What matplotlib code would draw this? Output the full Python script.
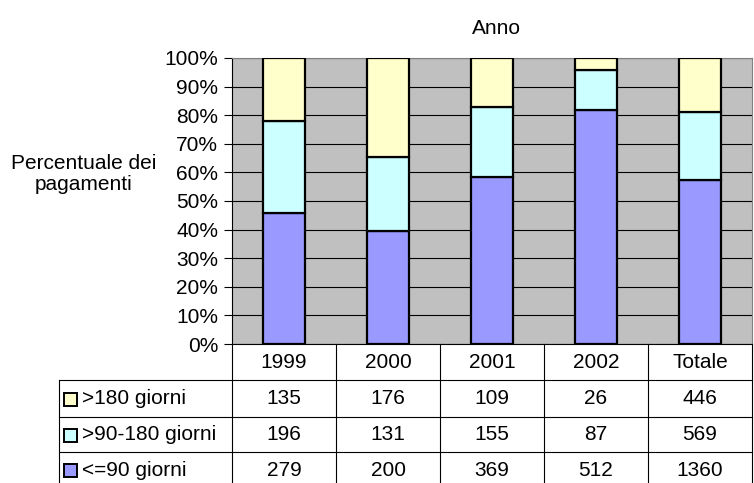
import matplotlib.pyplot as plt
import numpy as np

# pagamenti per anno e fascia di ritardo
anni = ["1999", "2000", "2001", "2002", "Totale"]
serie = [">180 giorni", ">90-180 giorni", "<=90 giorni"]
oltre_180 = [135, 176, 109, 26, 446]
da_90_a_180 = [196, 131, 155, 87, 569]
fino_90 = [279, 200, 369, 512, 1360]
colori = ["#FFFFCC", "#CCFFFF", "#9999FF"]

plt.rcParams['font.family'] = ['Liberation Sans', 'DejaVu Sans']
fs = 15

W, H = 754, 483
fig = plt.figure(figsize=(W / 100, H / 100), dpi=100)

# area del grafico in pixel
left, right, top, bottom = 232, 752, 58, 344
ax = fig.add_axes([left / W, 1 - bottom / H, (right - left) / W, (bottom - top) / H])
ax.set_facecolor("#C0C0C0")

valori = np.array([oltre_180, da_90_a_180, fino_90], dtype=float)
perc = valori / valori.sum(axis=0) * 100
x = np.arange(len(anni))

base = np.zeros(len(anni))
for i in [2, 1, 0]:
    ax.bar(x, perc[i], 0.4, bottom=base, color=colori[i], edgecolor="black",
           linewidth=1.6, zorder=3)
    base += perc[i]

ax.set_xlim(-0.5, len(anni) - 0.5)
ax.set_ylim(0, 100)
ax.set_yticks(range(0, 101, 10))
ax.set_yticklabels([f"{v}%" for v in range(0, 101, 10)], fontsize=fs)
ax.set_xticks([])
ax.yaxis.grid(True, color="black", linewidth=0.8)
ax.set_axisbelow(True)
ax.tick_params(axis="y", length=6, width=0.8, pad=4)
ax.spines["left"].set_color("black")
ax.spines["bottom"].set_color("black")
ax.spines["top"].set_color("#808080")
ax.spines["right"].set_color("#808080")
for s in ax.spines.values():
    s.set_linewidth(0.8)

# tabella dati sotto il grafico, disegnata in coordinate pixel
tab = fig.add_axes([0, 0, 1, 1])
tab.set_xlim(0, W)
tab.set_ylim(H, 0)
tab.axis("off")

col_w = (right - left) / len(anni)
righe = [344, 380, 417, 452, 488]
tab_left = 59
lw = 0.8

for j in range(len(anni) + 1):
    xx = left + j * col_w
    tab.plot([xx, xx], [righe[0], H], color="black", lw=lw)
tab.plot([tab_left, tab_left], [righe[1], H], color="black", lw=lw)
for yy in righe[1:4]:
    tab.plot([tab_left, right], [yy, yy], color="black", lw=lw)

for j, a in enumerate(anni):
    tab.text(left + (j + 0.5) * col_w, (righe[0] + righe[1]) / 2, a,
             ha="center", va="center", fontsize=fs)

for i, nome in enumerate(serie):
    yc = (righe[i + 1] + righe[i + 2]) / 2
    tab.add_patch(plt.Rectangle((64, yc - 6), 13, 13, facecolor=colori[i],
                                edgecolor="black", lw=1.4))
    tab.text(82, yc, nome, ha="left", va="center", fontsize=fs)
    for j in range(len(anni)):
        tab.text(left + (j + 0.5) * col_w, yc, str(int(valori[i, j])),
                 ha="center", va="center", fontsize=fs)

fig.text(496 / W, 1 - 28 / H, "Anno", ha="center", va="center", fontsize=fs)
fig.text(84 / W, 1 - 174 / H, "Percentuale dei\npagamenti", ha="center",
         va="center", fontsize=fs, linespacing=1.15)

fig.savefig("out.png", dpi=100)
